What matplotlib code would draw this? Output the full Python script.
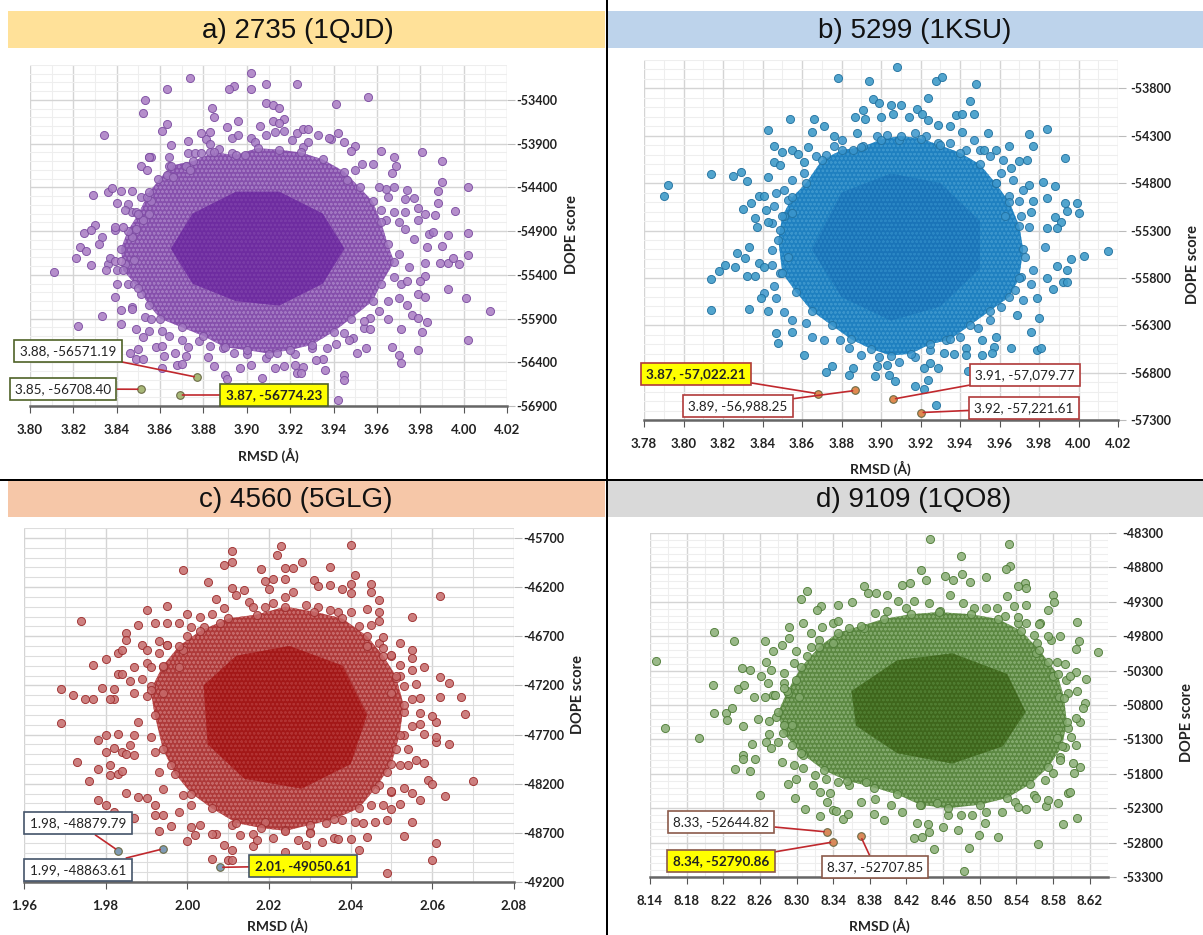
import matplotlib
matplotlib.use("Agg")
import matplotlib.pyplot as plt
from matplotlib.patches import Rectangle
from matplotlib.ticker import MultipleLocator

W, H = 1203, 935
plt.rcParams["hatch.linewidth"] = 0.6

# ---------- values (individually visible points) ----------
a_points = [(3.902,-53096),(3.874,-53149),(3.863,-53271),(3.894,-53240),(3.892,-53270),(3.902,-53270),(3.909,-53218),(3.923,-53218),
(3.853,-53400),(3.852,-53550),(3.909,-53430),(3.912,-53460),(3.915,-53490),(3.941,-53446),(3.956,-53370),(3.884,-53491),(3.885,-53594),
(3.896,-53640),(3.891,-53704),(3.906,-53693),(3.912,-53640),(3.917,-53613),(3.915,-53666),(3.863,-53677),(3.861,-53750),(3.834,-53800),
(3.879,-53780),(3.883,-53761),(3.873,-53871),(3.865,-53920),(3.923,-53780),(3.926,-53730),(3.928,-53730),(3.942,-53780),(3.938,-53833),
(3.945,-53875),(3.950,-53924),(3.948,-53978),(3.962,-53978),(3.981,-53997),(3.968,-54054),(3.990,-54100),(3.969,-54150),(3.967,-54230),
(3.990,-54340),(4.002,-54400),(3.988,-54445),(3.988,-54574),(3.996,-54670),(3.979,-54640),(3.982,-54700),(3.987,-54720),(3.993,-54946),
(4.002,-54927),(3.855,-54054),(3.851,-54150),(3.854,-54205),(3.829,-54490),(3.836,-54452),(3.838,-54407),(3.842,-54445),(3.847,-54441),
(3.840,-54578),(3.830,-54825),(3.825,-54920),(3.828,-54890),(3.839,-54850),(3.843,-54850),(3.811,-55362),(3.821,-55205),(3.823,-55083),
(3.826,-55130),(3.828,-55282),(3.833,-55870),(3.822,-55990),(3.832,-55046),(3.835,-55350),(3.839,-55237),(3.842,-55237),(3.840,-55503),
(3.839,-55655),(3.842,-55807),(3.842,-55960),(3.847,-55790),(3.849,-56020),(3.852,-56115),(3.850,-56250),(3.846,-56293),(3.849,-56360),
(3.852,-56360),(3.858,-56230),(3.861,-56210),(3.862,-56325),(3.861,-56465),(3.867,-56290),(3.868,-56430),(3.873,-56230),(3.872,-56325),
(3.870,-56420),(3.882,-56345),(3.885,-56440),(3.890,-56545),(3.891,-56595),(3.897,-56465),(3.902,-56430),(3.907,-56585),(3.913,-56465),
(3.917,-56440),(3.922,-56430),(3.923,-56520),(3.926,-56455),(3.925,-56520),(3.936,-56490),(3.945,-56540),(3.945,-56607),(3.942,-56830),
(3.935,-56360),(3.932,-56370),(3.941,-56190),(3.947,-56150),(3.951,-56290),(3.955,-56240),(3.967,-56225),(3.970,-56320),(3.971,-56405),
(3.979,-56255),(3.971,-56025),(3.981,-56050),(4.002,-56140),(4.012,-55810),(4.001,-55670),(3.993,-55560),(3.983,-55940),(3.979,-55620),
(3.982,-55650),(3.982,-55410),(3.980,-55465),(3.989,-55270),(3.993,-55260),(3.998,-55280),(4.002,-55170),(3.995,-55205),(3.990,-55065),
(3.983,-55080),(3.974,-55465),(3.974,-55740),(3.976,-55855),(3.979,-55895),(3.965,-55910),(3.961,-55810),(3.957,-55895),(3.954,-55930),
(3.957,-56025)]
a_fringe = [(3.873,-54008),(3.876,-54008),(3.879,-54008),(3.883,-53995),(3.893,-53833),(3.896,-53806),(3.902,-53833),(3.904,-53883),
(3.909,-53806),(3.913,-53770),(3.917,-53750),(3.921,-53863),(3.926,-53940),(3.928,-53883),(3.933,-53806),(3.939,-53845),(3.881,-53845),
(3.883,-53900),(3.887,-53960),(3.893,-54010),(3.899,-54030),(3.855,-54054),(3.856,-54054),(3.864,-54054),(3.864,-54150),(3.872,-54150),
(3.874,-54205),(3.863,-54262),(3.859,-54300),(3.866,-54280),(3.964,-54415),(3.958,-54130),(3.953,-54130),(3.950,-54205),(3.946,-54320),
(3.961,-54395),(3.965,-54510),(3.968,-54395),(3.974,-54435),(3.973,-54530),(3.977,-54518),(3.962,-54660),(3.968,-54680),(3.973,-54680),
(3.964,-54775),(3.970,-54795),(3.973,-54870),(3.979,-54775),(3.977,-54985),(3.984,-54930),(3.986,-54910),(3.845,-54585),(3.847,-54680),
(3.849,-54680),(3.844,-54660),(3.856,-54550),(3.851,-54510),(3.854,-54510),(3.852,-54775),(3.855,-54700),(3.839,-54890),(3.847,-54965),
(3.833,-54965),(3.849,-54870),(3.836,-55280),(3.837,-55205),(3.840,-55350),(3.844,-55280),(3.848,-55235),(3.845,-55500),(3.848,-55500),
(3.851,-55620),(3.847,-55770),(3.853,-55885),(3.856,-55900),(3.855,-56045),(3.861,-56045),(3.864,-56100),(3.870,-56140),(3.878,-56160),
(3.883,-56215),(3.889,-56235),(3.894,-56290),(3.900,-56310),(3.909,-56350),(3.914,-56290),(3.922,-56310),(3.930,-56235),(3.937,-56235),
(3.945,-56065),(3.949,-56120),(3.954,-56005),(3.965,-55700),(3.970,-55665),(3.971,-55500),(3.975,-55315),(3.982,-55260),(3.970,-55165),(3.968,-55430)]
a_ring = [(3.865,-54150),(3.875,-54100),(3.885,-54000),(3.895,-54030),(3.905,-53950),(3.915,-53970),(3.925,-54000),(3.935,-54080),
(3.945,-54220),(3.952,-54400),(3.958,-54560),(3.962,-54800),(3.965,-55050),(3.968,-55250),(3.962,-55500),(3.958,-55700),(3.948,-55900),
(3.940,-56050),(3.930,-56200),(3.920,-56260),(3.910,-56300),(3.900,-56260),(3.890,-56230),(3.880,-56100),(3.870,-56000),(3.860,-55900),
(3.855,-55750),(3.850,-55550),(3.843,-55350),(3.842,-55100),(3.845,-54900),(3.850,-54700),(3.855,-54450)]
a_core = [(3.875,-54700),(3.895,-54450),(3.915,-54450),(3.935,-54700),(3.945,-55100),(3.935,-55500),(3.915,-55750),(3.895,-55700),(3.875,-55500),(3.865,-55100)]
a_picks = [(3.877,-56571.19),(3.851,-56708.40),(3.869,-56774.23)]

b_points = [(3.908,-53574),(3.878,-53690),(3.894,-53726),(3.928,-53726),(3.931,-53680),(3.948,-53750),(3.924,-53902),(3.945,-53934),
(3.896,-53910),(3.899,-53952),(3.905,-53980),(3.910,-53980),(3.918,-54022),(3.921,-54065),(3.947,-54068),(3.938,-54085),(3.941,-54075),
(3.891,-54033),(3.887,-54104),(3.892,-54128),(3.900,-54100),(3.906,-54075),(3.914,-54100),(3.924,-54135),(3.929,-54181),(3.935,-54200),
(3.854,-54118),(3.866,-54128),(3.871,-54200),(3.843,-54234),(3.865,-54260),(3.876,-54298),(3.888,-54270),(3.984,-54227),(3.975,-54276),
(3.954,-54270),(3.941,-54262),(3.977,-54404),(3.965,-54404),(3.993,-54530),(3.974,-54552),(3.970,-54570),(3.966,-54640),(3.958,-54453),
(3.952,-54446),(3.846,-54404),(3.850,-54475),(3.855,-54446),(3.858,-54490),(3.863,-54418),(3.846,-54580),(3.849,-54605),(3.861,-54577),
(3.814,-54707),(3.825,-54728),(3.829,-54683),(3.832,-54780),(3.792,-54823),(3.790,-54933),(3.838,-54940),(3.841,-54940),(3.843,-54740),
(3.834,-55010),(3.830,-55070),(3.842,-55080),(3.836,-55170),(3.837,-55258),(3.843,-55215),(3.975,-54817),(3.982,-54792),(3.988,-54834),
(3.984,-54954),(3.977,-54993),(3.976,-55100),(3.993,-55010),(3.999,-55010),(4.000,-55110),(3.994,-55090),(3.988,-55160),(3.991,-55205),
(3.989,-55276),(3.984,-55276),(4.015,-55514),(4.003,-55564),(3.996,-55602),(3.989,-55673),(3.994,-55715),(3.992,-55846),(3.994,-55840),
(3.987,-55916),(3.984,-55803),(3.979,-56015),(3.980,-56226),(3.969,-56190),(3.976,-56375),(3.979,-56562),(3.981,-56545),(3.966,-56545),
(3.958,-56420),(3.957,-56525),(3.951,-56615),(3.956,-56597),(3.951,-56455),(3.943,-56545),(3.943,-56615),(3.937,-56605),(3.932,-56597),
(3.944,-56780),(3.929,-56755),(3.925,-56695),(3.922,-56755),(3.924,-56880),(3.917,-56940),(3.922,-56975),(3.928,-57138),(3.903,-56720),
(3.904,-56830),(3.907,-56885),(3.897,-56840),(3.898,-56730),(3.886,-56755),(3.884,-56825),(3.875,-56730),(3.872,-56790),(3.861,-56615),
(3.847,-56385),(3.848,-56485),(3.855,-56370),(3.814,-55815),(3.814,-56135),(3.833,-56130),(3.843,-56145),(3.818,-55725),(3.821,-55665),
(3.826,-55690),(3.827,-55535),(3.831,-55595),(3.833,-55470),(3.832,-55780),(3.836,-55785),(3.838,-55645),(3.841,-55680),(3.839,-56015)]
b_fringe = [(3.876,-54410),(3.880,-54340),(3.886,-54446),(3.891,-54410),(3.898,-54305),(3.903,-54287),(3.909,-54340),(3.917,-54270),
(3.923,-54305),(3.929,-54375),(3.935,-54375),(3.947,-54340),(3.950,-54446),(3.943,-54446),(3.955,-54516),(3.962,-54552),(3.961,-54693),
(3.958,-54800),(3.965,-54940),(3.970,-54993),(3.972,-54870),(3.967,-54764),(3.971,-55150),(3.975,-55258),(3.963,-55150),(3.872,-54500),
(3.867,-54516),(3.861,-54693),(3.855,-54764),(3.851,-54870),(3.847,-54905),(3.853,-54975),(3.846,-55045),(3.851,-55150),(3.845,-55220),
(3.855,-55115),(3.849,-55290),(3.845,-55505),(3.853,-55575),(3.845,-55660),(3.849,-55750),(3.846,-55890),(3.841,-55960),(3.847,-56015),
(3.851,-56155),(3.855,-56245),(3.862,-56280),(3.865,-56420),(3.871,-56455),(3.879,-56455),(3.884,-56545),(3.890,-56615),(3.899,-56632),
(3.909,-56685),(3.917,-56632),(3.925,-56562),(3.933,-56455),(3.940,-56420),(3.949,-56332),(3.955,-56245),(3.961,-56105),(3.968,-55930),
(3.971,-55790),(3.976,-55860),(3.972,-56035),(3.977,-55715),(3.973,-55575),(3.983,-55470)]
b_ring = [(3.862,-54800),(3.870,-54560),(3.880,-54450),(3.890,-54420),(3.900,-54340),(3.910,-54300),(3.920,-54330),(3.930,-54400),
(3.940,-54480),(3.950,-54600),(3.958,-54800),(3.965,-55000),(3.970,-55250),(3.972,-55500),(3.970,-55800),(3.965,-56000),(3.955,-56150),
(3.945,-56300),(3.935,-56450),(3.925,-56500),(3.915,-56600),(3.905,-56620),(3.895,-56550),(3.885,-56450),(3.875,-56300),(3.865,-56150),
(3.857,-55950),(3.850,-55750),(3.848,-55400),(3.850,-55150),(3.855,-54950)]
b_core = [(3.880,-54900),(3.905,-54700),(3.930,-54800),(3.950,-55200),(3.950,-55700),(3.930,-56100),(3.905,-56250),(3.880,-56000),(3.865,-55500)]
b_picks = [(3.868,-57022.21),(3.887,-56988.25),(3.906,-57079.77),(3.920,-57221.61)]

c_points = [(2.040,-45774),(2.023,-45784),(2.011,-45831),(2.022,-45879),(2.011,-45943),(2.009,-45980),(2.028,-45946),(2.035,-45997),
(2.018,-46020),(2.024,-46003),(2.026,-46003),(1.999,-46030),(2.005,-46149),(2.041,-46081),(2.019,-46142),(2.021,-46121),(2.024,-46121),
(2.020,-46216),(2.031,-46131),(2.032,-46192),(2.035,-46175),(2.040,-46172),(2.045,-46165),(2.045,-46250),(2.038,-46216),(2.040,-46260),
(2.062,-46294),(2.011,-46207),(2.014,-46227),(2.007,-46317),(2.009,-46411),(1.995,-46391),(1.990,-46435),(2.000,-46470),(1.974,-46543),
(1.988,-46590),(1.992,-46563),(1.995,-46570),(1.998,-46570),(2.055,-46506),(2.047,-46330),(2.044,-46425),(2.047,-46458),(2.047,-46542),
(1.985,-46668),(1.985,-46735),(1.989,-46785),(1.983,-46870),(1.984,-46845),(1.990,-46845),(1.993,-46745),(1.995,-46785),(1.980,-46934),
(1.977,-46990),(1.987,-47015),(1.991,-47015),(1.983,-47080),(1.984,-47080),(1.986,-47160),(1.969,-47240),(1.972,-47297),(1.975,-47340),
(1.977,-47340),(1.979,-47230),(1.982,-47240),(1.981,-47340),(2.052,-46770),(2.055,-46845),(2.055,-46925),(2.058,-47015),(2.055,-47040),
(2.062,-47113),(2.064,-47180),(2.056,-47187),(2.062,-47320),(2.067,-47317),(2.057,-47327),(2.052,-46990),(2.050,-46890),(2.048,-46710),
(1.969,-47585),(2.068,-47490),(2.064,-47800),(2.061,-47780),(2.061,-47727),(2.058,-47693),(2.061,-47575),(2.060,-47510),(2.057,-47480),
(2.057,-47590),(1.973,-47980),(1.978,-47754),(1.980,-47703),(1.983,-47693),(1.980,-47875),(1.982,-47835),(1.984,-47880),(1.985,-47900),
(1.978,-48050),(1.981,-48010),(1.981,-48116),(1.983,-48105),(1.984,-48072),(1.976,-48173),(1.985,-48291),(1.978,-48362),(1.980,-48413),
(1.982,-48487),(1.988,-48340),(1.990,-48350),(1.987,-48550),(1.992,-48420),(1.992,-48522),(1.994,-48522),(1.993,-48683),(1.996,-48630),
(2.000,-48780),(2.001,-48640),(2.002,-48725),(2.006,-48710),(2.006,-48970),(2.009,-48820),(2.011,-48878),(2.010,-48980),(2.011,-48980),
(2.016,-48830),(2.017,-48774),(2.021,-48757),(2.024,-48890),(2.027,-48774),(2.029,-48825),(2.030,-48700),(2.033,-48790),(2.036,-48757),
(2.037,-48763),(2.040,-48767),(2.042,-48875),(2.044,-48740),(2.049,-49110),(2.060,-48975),(2.061,-48800),(2.053,-48733),(2.055,-48590),
(2.049,-48566),(2.050,-48455),(2.052,-48410),(2.057,-48370),(2.063,-48325),(2.055,-48290),(2.053,-48245),(2.059,-48167),(2.060,-48200),
(2.070,-48173),(2.050,-48270),(2.058,-47985),(2.056,-47960),(2.054,-48010),(2.054,-47845),(2.046,-48590),(2.043,-48605)]
c_fringe = [(2.001,-46605),(2.003,-46502),(2.004,-46605),(2.006,-46470),(2.008,-46570),(2.012,-46283),(2.015,-46350),(2.016,-46400),
(2.019,-46400),(2.021,-46367),(2.024,-46300),(2.026,-46250),(2.029,-46384),(2.032,-46400),(2.035,-46435),(2.037,-46450),(2.040,-46450),
(2.042,-46600),(2.045,-46590),(2.047,-46770),(2.048,-46820),(2.044,-46805),(2.050,-46905),(2.052,-47110),(2.051,-47125),(2.053,-47210),
(2.055,-47340),(2.050,-47275),(1.993,-46870),(1.995,-46790),(1.999,-46840),(2.000,-46700),(1.998,-47010),(1.994,-47010),(1.990,-46975),
(1.989,-47140),(1.991,-47210),(1.987,-47275),(1.982,-47340),(1.994,-47275),(1.990,-47310),(1.988,-47575),(1.987,-47710),(1.986,-47810),
(1.987,-47910),(1.991,-47727),(1.992,-47880),(1.993,-48080),(1.994,-48250),(1.996,-48010),(1.998,-48490),(1.999,-48320),(2.001,-48420),
(2.003,-48620),(2.007,-48710),(2.011,-48625),(2.013,-48725),(2.016,-48710),(2.019,-48590),(2.024,-48675),(2.030,-48690),(2.034,-48605),
(2.038,-48570),(2.041,-48590),(2.045,-48420),(2.048,-48420),(2.050,-48280),(2.047,-48215),(2.049,-48085),(2.052,-48010),(2.051,-47845),
(2.053,-47710),(2.055,-47610),(2.053,-47475)]
c_ring = [(1.994,-47000),(1.998,-46800),(2.003,-46650),(2.010,-46520),(2.017,-46480),(2.024,-46400),(2.031,-46450),(2.038,-46520),
(2.044,-46700),(2.048,-46900),(2.051,-47100),(2.053,-47400),(2.052,-47700),(2.050,-48000),(2.046,-48250),(2.042,-48450),(2.036,-48560),
(2.030,-48620),(2.024,-48680),(2.018,-48650),(2.012,-48600),(2.006,-48450),(2.001,-48300),(1.997,-48100),(1.994,-47850),(1.992,-47500),(1.991,-47250)]
c_core = [(2.004,-47200),(2.012,-46900),(2.025,-46800),(2.038,-47000),(2.044,-47500),(2.040,-48000),(2.028,-48250),(2.014,-48150),(2.005,-47800)]
c_picks = [(1.983,-48879.79),(1.994,-48863.61),(2.008,-49050.61)]

d_points = [(8.446,-48387),(8.532,-48455),(8.479,-48635),(8.481,-48892),(8.436,-48833),(8.462,-48920),(8.441,-48980),(8.471,-48989),
(8.489,-49008),(8.507,-48945),(8.533,-48775),(8.529,-48820),(8.549,-49030),(8.542,-49075),(8.550,-49100),(8.530,-49210),(8.580,-49197),
(8.581,-49300),(8.574,-49425),(8.551,-49340),(8.537,-49365),(8.542,-49522),(8.566,-49610),(8.606,-49600),(8.588,-49800),(8.608,-49875),
(8.605,-49988),(8.629,-50030),(8.593,-50200),(8.605,-50322),(8.598,-50385),(8.616,-50424),(8.606,-50590),(8.615,-50775),(8.565,-49620),
(8.575,-49800),(8.311,-49150),(8.305,-49255),(8.374,-49066),(8.378,-49170),(8.387,-49165),(8.399,-49197),(8.415,-49056),(8.424,-49030),
(8.345,-49340),(8.327,-49355),(8.322,-49415),(8.361,-49310),(8.210,-49740),(8.232,-49865),(8.266,-49870),(8.147,-50162),(8.292,-49668),
(8.292,-49828),(8.307,-49610),(8.328,-49660),(8.316,-49755),(8.284,-49935),(8.274,-50020),(8.299,-50010),(8.240,-50255),(8.249,-50290),
(8.261,-50385),(8.209,-50515),(8.236,-50565),(8.243,-50505),(8.269,-50480),(8.267,-50170),(8.272,-50290),(8.253,-50680),(8.266,-50680),
(8.276,-50650),(8.286,-50555),(8.156,-51130),(8.193,-51285),(8.210,-50910),(8.223,-50920),(8.224,-51020),(8.230,-50850),(8.242,-51100),
(8.258,-51005),(8.270,-51030),(8.251,-51360),(8.270,-51225),(8.267,-51340),(8.272,-51430),(8.242,-51520),(8.242,-51580),(8.255,-51590),
(8.233,-51735),(8.249,-51760),(8.260,-52115),(8.291,-51950),(8.298,-52155),(8.299,-51875),(8.284,-51635),(8.309,-52315),(8.326,-52420),
(8.340,-52325),(8.343,-52340),(8.351,-52450),(8.356,-52385),(8.326,-52070),(8.336,-52085),(8.333,-52205),(8.370,-52205),(8.384,-52390),
(8.395,-52475),(8.428,-52730),(8.437,-52725),(8.432,-52510),(8.444,-52525),(8.445,-52640),(8.450,-52895),(8.460,-52580),(8.476,-52620),
(8.488,-52875),(8.483,-53215),(8.499,-52690),(8.520,-52725),(8.506,-52520),(8.564,-52820),(8.591,-52525),(8.606,-52440),(8.585,-52230),
(8.572,-52270),(8.575,-52180),(8.596,-52085),(8.598,-52070),(8.561,-52155),(8.551,-52305),(8.542,-52280),(8.603,-51795),(8.609,-51705),
(8.602,-51650),(8.588,-51600),(8.605,-51385),(8.600,-51260),(8.609,-51040),(8.605,-50985),(8.613,-50840)]
d_fringe = [(8.340,-49610),(8.345,-49585),(8.357,-49680),(8.374,-49680),(8.386,-49465),(8.399,-49440),(8.411,-49295),(8.420,-49390),
(8.428,-49295),(8.445,-49320),(8.457,-49440),(8.467,-49197),(8.482,-49320),(8.494,-49390),(8.507,-49390),(8.519,-49390),(8.528,-49510),
(8.542,-49610),(8.551,-49610),(8.559,-49780),(8.563,-49900),(8.578,-49850),(8.561,-50045),(8.575,-50170),(8.584,-50170),(8.580,-50385),
(8.594,-50435),(8.596,-50630),(8.586,-50680),(8.324,-49850),(8.316,-49950),(8.340,-49900),(8.311,-50095),(8.297,-50190),(8.286,-50335),
(8.299,-50435),(8.286,-50480),(8.274,-50650),(8.291,-50630),(8.303,-50680),(8.278,-50970),(8.286,-51090),(8.295,-51090),(8.280,-51335),
(8.295,-51380),(8.307,-51530),(8.297,-51670),(8.307,-51720),(8.320,-51820),(8.332,-51870),(8.318,-51965),(8.345,-51915),(8.357,-51965),
(8.376,-51915),(8.386,-52160),(8.403,-52255),(8.415,-52350),(8.436,-52255),(8.453,-52230),(8.465,-52400),(8.480,-52400),(8.492,-52400),
(8.507,-52350),(8.524,-52350),(8.538,-52205),(8.559,-52110),(8.571,-51890),(8.580,-51795),(8.588,-51550),(8.593,-51405),(8.584,-51285),(8.596,-51140)]
d_ring = [(8.290,-50600),(8.305,-50250),(8.325,-49950),(8.345,-49750),(8.370,-49650),(8.395,-49550),(8.425,-49480),(8.455,-49450),
(8.490,-49480),(8.520,-49550),(8.545,-49720),(8.565,-50000),(8.585,-50350),(8.592,-50700),(8.595,-51050),(8.590,-51400),(8.575,-51700),
(8.555,-51950),(8.530,-52150),(8.500,-52250),(8.465,-52300),(8.435,-52250),(8.410,-52100),(8.385,-52000),(8.355,-51900),(8.330,-51750),
(8.305,-51500),(8.285,-51200),(8.280,-50900)]
d_core = [(8.360,-50600),(8.410,-50150),(8.470,-50050),(8.530,-50350),(8.550,-50900),(8.525,-51400),(8.470,-51650),(8.410,-51500),(8.365,-51100)]
d_picks = [(8.333,-52644.82),(8.340,-52790.86),(8.370,-52707.85)]

a_xticks = [3.80,3.82,3.84,3.86,3.88,3.90,3.92,3.94,3.96,3.98,4.00,4.02]
b_xticks = [3.78,3.80,3.82,3.84,3.86,3.88,3.90,3.92,3.94,3.96,3.98,4.00,4.02]
c_xticks = [1.96,1.98,2.00,2.02,2.04,2.06,2.08]
d_xticks = [8.14,8.18,8.22,8.26,8.30,8.34,8.38,8.42,8.46,8.50,8.54,8.58,8.62]
a_yticks = [-53400,-53900,-54400,-54900,-55400,-55900,-56400,-56900]
b_yticks = [-53800,-54300,-54800,-55300,-55800,-56300,-56800,-57300]
c_yticks = [-45700,-46200,-46700,-47200,-47700,-48200,-48700,-49200]
d_yticks = [-48300,-48800,-49300,-49800,-50300,-50800,-51300,-51800,-52300,-52800,-53300]

FONT = ["Lato", "DejaVu Sans"]
TITLE = ["Liberation Sans", "DejaVu Sans"]

fig = plt.figure(figsize=(W/100, H/100), dpi=100, facecolor="white")


def fx(px):
    return px / W


def fy(py):
    return 1 - py / H


def band(x0, x1, y0, y1, color, title, tx):
    fig.add_artist(Rectangle((fx(x0), fy(y1)), (x1-x0)/W, (y1-y0)/H, transform=fig.transFigure, color=color, lw=0))
    fig.text(fx(tx), fy((y0+y1)/2 + 1), title, ha="center", va="center", fontsize=20, family=TITLE, color="#111111")


def panel(box, xlim, ylim, xticks, yticks, xminor, pts, fringe, ring, core, picks, colors, pick_color,
          notes, note_edge, ylab, xlab, grid_minor, ypad):
    l, t, r, b = box
    ax = fig.add_axes([fx(l), fy(b), (r-l)/W, (b-t)/H])
    ax.set_xlim(*xlim)
    ax.set_ylim(*ylim)
    ax.set_xticks(xticks)
    ax.set_xticklabels([f"{v:.2f}" for v in xticks], family=FONT, fontsize=9.5, weight="bold", color="#222222")
    ax.xaxis.set_minor_locator(MultipleLocator(xminor))
    ax.yaxis.set_minor_locator(MultipleLocator(100))
    ax.yaxis.tick_right()
    ax.set_yticks(yticks)
    ax.set_yticklabels([str(v) for v in yticks], family=FONT, fontsize=9, weight="bold", color="#222222")
    ax.tick_params(axis="y", which="major", length=6, color="#BBBBBB", pad=ypad)
    ax.tick_params(axis="x", which="major", length=5, color="#555555", pad=8)
    ax.tick_params(which="minor", length=0)
    ax.grid(True, which="major", color="#D4D4D4", lw=1)
    ax.grid(True, which="minor", color=grid_minor, lw=0.8)
    ax.set_axisbelow(True)
    for s in ("top", "left", "right"):
        ax.spines[s].set_visible(False)
    ax.spines["bottom"].set_color("#666666")
    ax.spines["bottom"].set_linewidth(1.8)

    face, edge, mid, dark, glint, dark_glint = colors
    rx, ry = zip(*ring)
    cx, cy = zip(*core)
    ax.fill(rx, ry, facecolor=mid, edgecolor=glint, hatch="oooo", lw=0, zorder=2)
    ax.fill(cx, cy, facecolor=dark, edgecolor=dark_glint, hatch="oooo", lw=0, zorder=2.2)
    fx_, fy_ = zip(*fringe)
    ax.scatter(fx_, fy_, s=34, facecolor=glint, edgecolor=edge, linewidth=0.7, alpha=0.85, zorder=2.6)
    ax.scatter(rx, ry, s=34, facecolor=glint, edgecolor=edge, linewidth=0.7, alpha=0.85, zorder=2.7)
    px, py = zip(*pts)
    ax.scatter(px, py, s=34, facecolor=face, edgecolor=edge, linewidth=0.7, alpha=0.9, zorder=3)
    qx, qy = zip(*picks)
    ax.scatter(qx, qy, s=30, facecolor=pick_color, edgecolor="#6B6B45", linewidth=0.8, zorder=4)

    for (pick, text, cxp, cyp, hi) in notes:
        ax.annotate(text, xy=pick, xycoords="data", xytext=(cxp, H - cyp), textcoords="figure pixels",
                    ha="center", va="center", family=FONT, fontsize=9.7, weight="bold" if hi else "normal",
                    color="#222222", zorder=6, annotation_clip=False,
                    bbox=dict(boxstyle="square,pad=0.4", fc="#FFFF00" if hi else "white", ec=note_edge, lw=1.2),
                    arrowprops=dict(arrowstyle="-", color="#C0282D", lw=1.2, shrinkA=0, shrinkB=2))
    fig.text(fx(ylab[0]), fy(ylab[1]), "DOPE score", rotation=90, ha="center", va="center", family=FONT,
             fontsize=10.5, weight="bold", color="#222222")
    fig.text(fx(xlab[0]), fy(xlab[1]), "RMSD (Å)", ha="center", va="center", family=FONT,
             fontsize=10, weight="bold", color="#222222")


band(8, 605, 11, 48, "#FFE199", "a) 2735 (1QJD)", 298)
band(607, 1203, 11, 48, "#BDD3EB", "b) 5299 (1KSU)", 915)
band(8, 605, 481, 517, "#F6C7A8", "c) 4560 (5GLG)", 296)
band(607, 1203, 481, 517, "#D9D9D9", "d) 9109 (1QO8)", 914)

panel((30, 65, 507, 406), (3.80, 4.02), (-56900, -53000), a_xticks, a_yticks, 0.01, a_points, a_fringe, a_ring, a_core, a_picks,
      ("#AD82C6", "#7B4BA0", "#8650AC", "#6E2CA0", "#A278C2", "#7A3CA8"), "#A8B878",
      [(a_picks[0], "3.88, -56571.19", 68, 351, False), (a_picks[1], "3.85, -56708.40", 63, 389, False),
       (a_picks[2], "3.87, -56774.23", 274, 395, True)], "#4F6228", (572, 235), (268, 455), "#EEEEEE", 1)
panel((644, 60, 1118, 420), (3.78, 4.02), (-57300, -53500), b_xticks, b_yticks, 0.01, b_points, b_fringe, b_ring, b_core, b_picks,
      ("#3F9BC9", "#20709F", "#1F80C0", "#1A74B8", "#3A95CC", "#2A86C4"), "#E08A50",
      [(b_picks[0], "3.87, -57,022.21", 696, 374, True), (b_picks[1], "3.89, -56,988.25", 738, 406, False),
       (b_picks[2], "3.91, -57,079.77", 1025, 375, False), (b_picks[3], "3.92, -57,221.61", 1024, 408, False)],
      "#B03A3A", (1193, 265), (880, 468), "#EEEEEE", 3)
panel((24, 528, 514, 882), (1.96, 2.08), (-49200, -45600), c_xticks, c_yticks, 0.01, c_points, c_fringe, c_ring, c_core, c_picks,
      ("#C87272", "#9C2B2B", "#AE3A3A", "#A31818", "#C66868", "#B23232"), "#7F9BB5",
      [(c_picks[0], "1.98, -48879.79", 78, 823, False), (c_picks[1], "1.99, -48863.61", 78, 870, False),
       (c_picks[2], "2.01, -49050.61", 303, 866, True)], "#44546A", (578, 695), (277, 925), "#DDDDDD", 1)
panel((650, 533, 1108, 877), (8.14, 8.64), (-53300, -48300), d_xticks, d_yticks, 0.02, d_points, d_fringe, d_ring, d_core, d_picks,
      ("#8FB27C", "#4C7A34", "#5C8842", "#3F661C", "#82A96C", "#4F7C30"), "#D98A5A",
      [(d_picks[0], "8.33, -52644.82", 721, 822, False), (d_picks[1], "8.34, -52790.86", 721, 861, True),
       (d_picks[2], "8.37, -52707.85", 875, 867, False)], "#8B5A4A", (1187, 722), (879, 925), "#EEEEEE", 4)

# black dividers between the panels
fig.add_artist(Rectangle((fx(605.5), 0), 2/W, 1, transform=fig.transFigure, color="black", lw=0, zorder=10))
fig.add_artist(Rectangle((0, fy(481)), 1, 1.5/H, transform=fig.transFigure, color="black", lw=0, zorder=10))

fig.savefig("out.png", dpi=100)
